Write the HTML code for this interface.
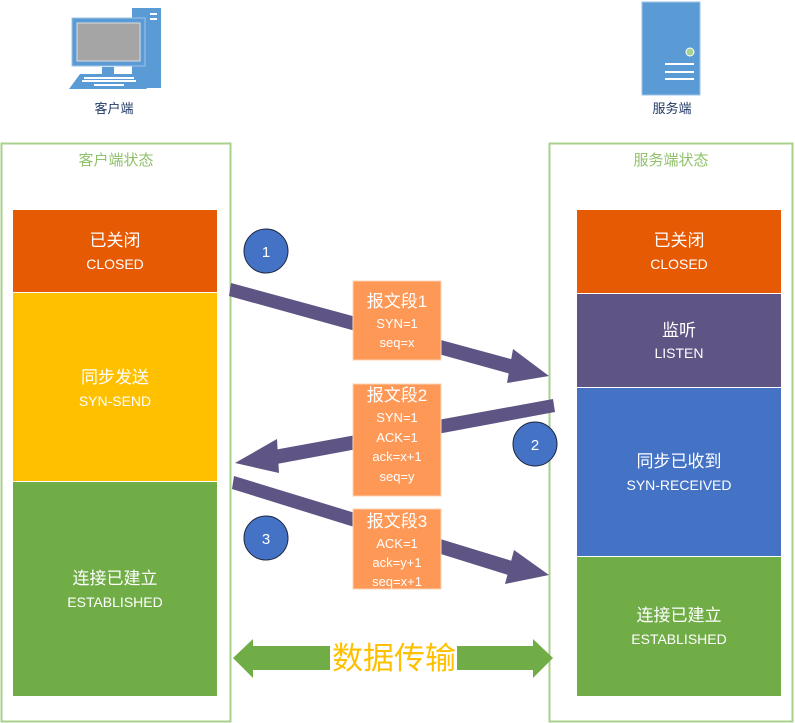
<!DOCTYPE html>
<html><head><meta charset="utf-8"><style>
html,body{margin:0;padding:0;background:#fff;}
svg{display:block;}
text{font-family:"Liberation Sans","Noto Sans CJK SC",sans-serif;}
</style></head><body>
<svg width="795" height="723" viewBox="0 0 795 723" xmlns="http://www.w3.org/2000/svg">
<!-- client icon -->
<rect x="132" y="8" width="29" height="80" fill="#5b9bd5"/>
<rect x="150" y="13" width="7" height="2" fill="#fff"/>
<rect x="150" y="18" width="7" height="2" fill="#fff"/>
<rect x="72" y="18" width="73" height="48" fill="#5b9bd5" stroke="#9dc3e6" stroke-width="1"/>
<rect x="77" y="23" width="63" height="38" fill="#a5a5a5" stroke="#ddd" stroke-width="1"/>
<rect x="102" y="67" width="12" height="7" fill="#5b9bd5"/>
<polygon points="80,74 137,74 147,89 69,89" fill="#5b9bd5"/>
<g fill="#fff"><rect x="84" y="77" width="50" height="2"/><rect x="82" y="80" width="54" height="2"/><rect x="94" y="84" width="30" height="2"/></g>
<text x="114" y="113" font-size="13" fill="#1f3864" text-anchor="middle">客户端</text>
<!-- server icon -->
<rect x="642" y="2" width="58" height="93" fill="#5b9bd5" stroke="#9dc3e6"/>
<circle cx="690" cy="52" r="4" fill="#a9d18e" stroke="#fff"/>
<g fill="#fff"><rect x="665" y="63" width="29" height="2"/><rect x="665" y="71" width="29" height="2"/><rect x="665" y="78" width="29" height="2"/></g>
<text x="672" y="113" font-size="13" fill="#1f3864" text-anchor="middle">服务端</text>
<!-- containers -->
<rect x="1.5" y="143.5" width="229" height="578" fill="none" stroke="#a9d18e" stroke-width="2"/>
<rect x="549.5" y="143.5" width="243" height="578" fill="none" stroke="#a9d18e" stroke-width="2"/>
<text x="116" y="165" font-size="15" fill="#8fc16a" text-anchor="middle">客户端状态</text>
<text x="671" y="165" font-size="15" fill="#8fc16a" text-anchor="middle">服务端状态</text>
<!-- left states -->
<rect x="13" y="210" width="204" height="82" fill="#e65a04"/>
<rect x="13" y="293" width="204" height="188" fill="#ffc000"/>
<rect x="13" y="482" width="204" height="214" fill="#70ad47"/>
<g fill="#fff" text-anchor="middle">
<text x="115" y="246" font-size="17">已关闭</text>
<text x="115" y="269" font-size="14">CLOSED</text>
<text x="115" y="383" font-size="17">同步发送</text>
<text x="115" y="406" font-size="14">SYN-SEND</text>
<text x="115" y="584" font-size="17">连接已建立</text>
<text x="115" y="607" font-size="14">ESTABLISHED</text>
</g>
<!-- right states -->
<rect x="577" y="210" width="204" height="83" fill="#e65a04"/>
<rect x="577" y="294" width="204" height="93" fill="#5f5584"/>
<rect x="577" y="388" width="204" height="168" fill="#4472c4"/>
<rect x="577" y="557" width="204" height="139" fill="#70ad47"/>
<g fill="#fff" text-anchor="middle">
<text x="679" y="246" font-size="17">已关闭</text>
<text x="679" y="269" font-size="14">CLOSED</text>
<text x="679" y="336" font-size="17">监听</text>
<text x="679" y="358" font-size="14">LISTEN</text>
<text x="679" y="467" font-size="17">同步已收到</text>
<text x="679" y="490" font-size="14">SYN-RECEIVED</text>
<text x="679" y="621" font-size="17">连接已建立</text>
<text x="679" y="644" font-size="14">ESTABLISHED</text>
</g>
<!-- arrows -->
<g fill="#5f5584">
<polygon points="231,283 522,362 518,376 229,296"/>
<polygon points="513,349 549,376 507,383"/>
<polygon points="553,399 263,452 266,466 555,412"/>
<polygon points="277,439 235,463 279,473"/>
<polygon points="234,476 522,564 518,578 232,489"/>
<polygon points="514,550 549,575 505,584"/>
</g>
<!-- circles -->
<g stroke="#1f2a44" stroke-width="1" fill="#4472c4">
<circle cx="266" cy="251" r="22"/>
<circle cx="535" cy="444" r="22"/>
<circle cx="266" cy="538" r="22"/>
</g>
<g fill="#fff" font-size="15" text-anchor="middle">
<text x="266" y="257">1</text><text x="535" y="450">2</text><text x="266" y="544">3</text>
</g>
<!-- message boxes -->
<rect x="353" y="281" width="88" height="79" fill="#fd9857" stroke="#fcd5b5"/>
<rect x="353" y="384" width="88" height="112" fill="#fd9857" stroke="#fcd5b5"/>
<rect x="353" y="509" width="88" height="80" fill="#fd9857" stroke="#fcd5b5"/>
<g fill="#fff" text-anchor="middle">
<text x="397" y="307" font-size="17">报文段1</text>
<text x="397" y="328" font-size="13">SYN=1</text>
<text x="397" y="347" font-size="13">seq=x</text>
<text x="397" y="401" font-size="17">报文段2</text>
<text x="397" y="422" font-size="13">SYN=1</text>
<text x="397" y="442" font-size="13">ACK=1</text>
<text x="397" y="461" font-size="13">ack=x+1</text>
<text x="397" y="481" font-size="13">seq=y</text>
<text x="397" y="527" font-size="17">报文段3</text>
<text x="397" y="548" font-size="13">ACK=1</text>
<text x="397" y="567" font-size="13">ack=y+1</text>
<text x="397" y="586" font-size="13">seq=x+1</text>
</g>
<!-- data transfer arrow -->
<polygon points="233,658 253,639 253,646 533,646 533,639 553,658 533,678 533,670 253,670 253,678" fill="#70ad47"/>
<rect x="330" y="640" width="127" height="34" fill="#fff"/>
<text x="394" y="669" font-size="31" fill="#ffc000" text-anchor="middle">数据传输</text>
</svg>
</body></html>
